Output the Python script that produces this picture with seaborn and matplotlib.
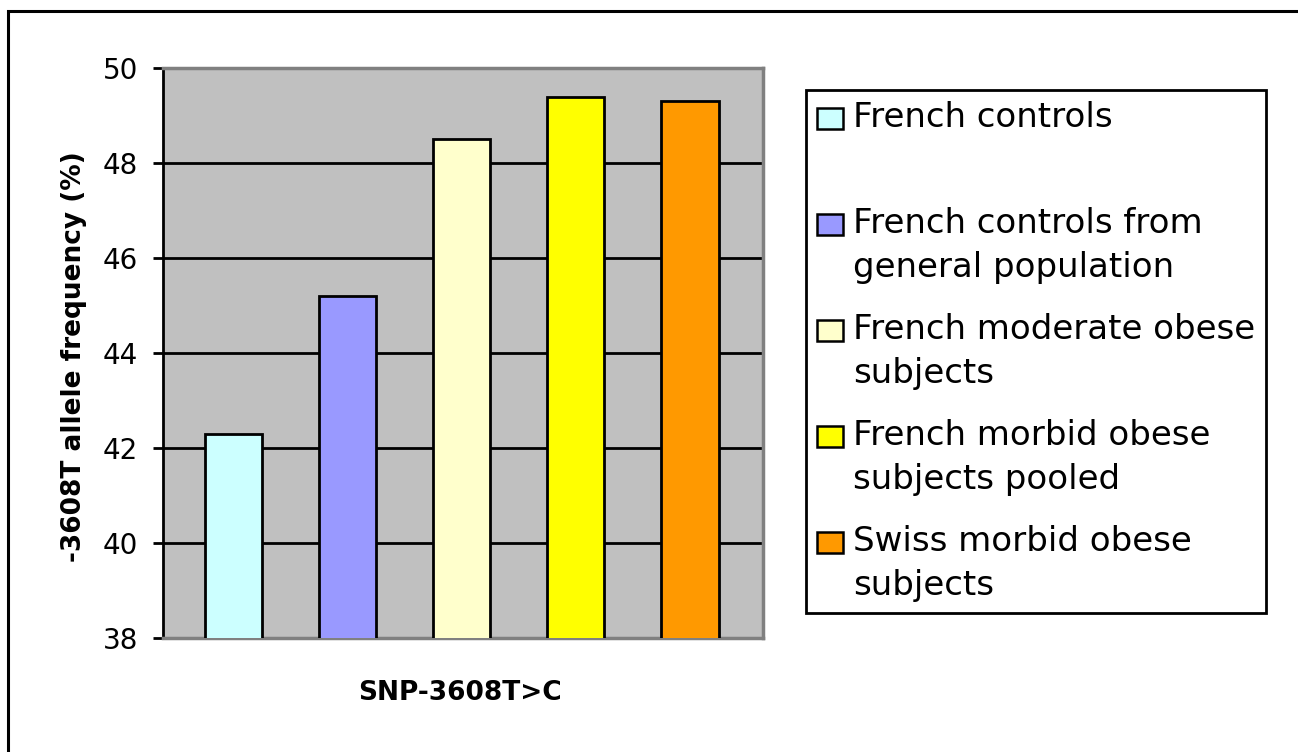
import matplotlib
matplotlib.use("Agg")
import matplotlib.pyplot as plt
import matplotlib.patches as mpatches
from matplotlib.legend_handler import HandlerPatch
import seaborn as sns

# ---- data ----
categories = ["French controls",
              "French controls from general population",
              "French moderate obese subjects",
              "French morbid obese subjects pooled",
              "Swiss morbid obese subjects"]
legend_labels = ["French controls\n ",
                 "French controls from\ngeneral population",
                 "French moderate obese\nsubjects",
                 "French morbid obese\nsubjects pooled",
                 "Swiss morbid obese\nsubjects"]
values = [42.3, 45.2, 48.5, 49.4, 49.3]
colors = ["#CCFFFF", "#9999FF", "#FFFFCC", "#FFFF00", "#FF9900"]
yticks = [38, 40, 42, 44, 46, 48, 50]
ylabel = "-3608T allele frequency (%)"
xlabel = "SNP-3608T>C"

sns.set_style("white")
plt.rcParams["font.family"] = ["DejaVu Sans"]
plt.rcParams["text.color"] = "black"
plt.rcParams["axes.labelcolor"] = "black"
plt.rcParams["xtick.color"] = "black"
plt.rcParams["ytick.color"] = "black"

W, H = 1298, 752
fig = plt.figure(figsize=(W / 100, H / 100), dpi=100)
ax = fig.add_axes([163 / W, 1 - 638 / H, 600 / W, 570 / H])
ax.set_facecolor("#C0C0C0")

sns.barplot(x=categories, y=values, hue=categories, palette=colors,
            saturation=1, width=0.5, edgecolor="black", linewidth=2,
            legend=False, ax=ax, zorder=3)

ax.set_ylim(38, 50)
ax.set_xlim(-0.62, 4.64)
ax.set_yticks(yticks)
ax.set_yticklabels([str(t) for t in yticks])
ax.set_xticks([])
ax.grid(axis="y", color="black", linewidth=2)
ax.set_axisbelow(True)
ax.tick_params(axis="y", labelsize=20, length=7, width=2, color="black",
               labelcolor="black", pad=11, left=True)

for side in ["top", "right", "bottom"]:
    ax.spines[side].set_color("#808080")
    ax.spines[side].set_linewidth(2.5)
ax.spines["left"].set_color("black")
ax.spines["left"].set_linewidth(2)

ax.set_ylabel(ylabel, fontsize=19, fontweight="bold", color="black")
ax.yaxis.set_label_coords(-0.127, 0.494)
ax.set_xlabel(xlabel, fontsize=19, fontweight="bold", color="black")
ax.xaxis.set_label_coords(0.495, -0.074)


class TopAlignedPatch(HandlerPatch):
    def __init__(self, shift, **kw):
        super().__init__(**kw)
        self.shift = shift

    def create_artists(self, legend, orig_handle, xdescent, ydescent,
                       width, height, fontsize, trans):
        p = mpatches.Rectangle((-xdescent, -ydescent + self.shift * fontsize),
                               width, height,
                               facecolor=orig_handle.get_facecolor(),
                               edgecolor="black", linewidth=1.8)
        p.set_transform(trans)
        return [p]


handles = list(ax.patches[:len(categories)])
leg = fig.legend(handles, legend_labels, loc="upper left",
                 bbox_to_anchor=(806 / W, 1 - 90 / H),
                 bbox_transform=fig.transFigure, borderaxespad=0,
                 frameon=True, fancybox=False, edgecolor="black",
                 framealpha=1, prop={"size": 24.5, "family": "DejaVu Sans"},
                 handlelength=0.75, handleheight=0.56, handletextpad=0.3,
                 labelspacing=0.86, borderpad=0.33,
                 handler_map={mpatches.Rectangle: TopAlignedPatch(0.64)})
leg.get_frame().set_linewidth(2)
for t in leg.get_texts():
    t.set_linespacing(1.41)
    t.set_color("black")

# outer frame (left and top edges visible)
fig.add_artist(mpatches.Rectangle((8 / W, -0.5), 2, 1.5 - 11 / H,
                                  transform=fig.transFigure, fill=False,
                                  edgecolor="black", linewidth=2.2))

fig.savefig("out.png", dpi=100)
